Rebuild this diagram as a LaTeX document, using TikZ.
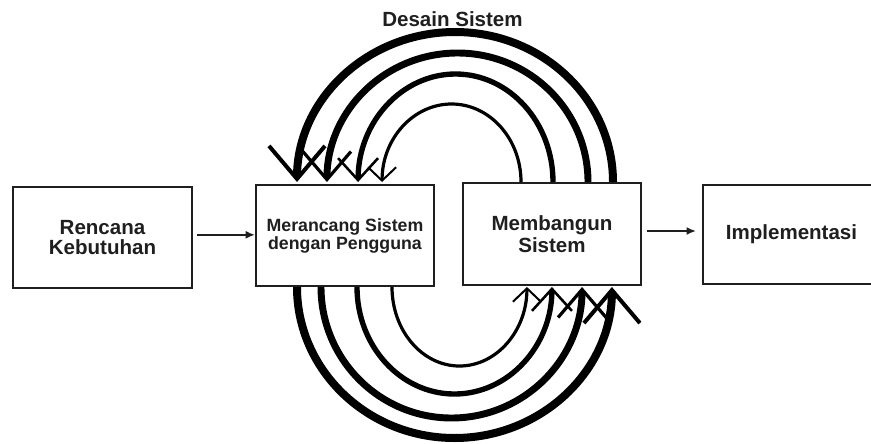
\documentclass[tikz,border=0pt]{standalone}
\usepackage{fontspec}
\setmainfont{Liberation Sans}
\usetikzlibrary{arrows.meta}
\begin{document}
\begin{tikzpicture}[x=0.75pt,y=-0.75pt,
  box/.style={draw=black!88, line width=1.5pt, rectangle, inner sep=0pt, align=center, text=black!88,
    font=\bfseries\fontsize{15.4}{15}\selectfont},
  harr/.style={draw=black!88, line width=1.5pt, -{Latex[length=7pt,width=6pt]}},
  loopA/.style={line width=6pt, -{Straight Barb[length=24.75pt,width=42pt,line width=3pt]}},
  loopB/.style={line width=5.2pt, -{Straight Barb[length=21pt,width=36pt,line width=2.4pt]}},
  loopC/.style={line width=4pt, -{Straight Barb[length=16.5pt,width=30pt,line width=1.9pt]}},
  loopD/.style={line width=2.4pt, -{Straight Barb[length=10pt,width=21pt,line width=1.5pt]}},
]
\useasboundingbox (0,0) rectangle (871,443);
\fill[white] (0,0) rectangle (871,443);

\node[box, minimum width=134.25pt, minimum height=75.75pt] (b1) at (102.5,237.5) {Rencana\\Kebutuhan};
\node[box, minimum width=133.5pt, minimum height=75.75pt, font=\bfseries\fontsize{13.3}{12}\selectfont] (b2) at (345,235.5) {Merancang Sistem\\dengan Pengguna};
\node[box, minimum width=133.5pt, minimum height=76.5pt, font=\bfseries\fontsize{15.4}{16.5}\selectfont] (b3) at (552,234) {Membangun\\Sistem};
\node[box, minimum width=132.75pt, minimum height=74.25pt] (b4) at (791.5,234.5) {Implementasi};

\node[font=\bfseries\fontsize{15.4}{15}\selectfont, text=black!88] (ds) at (452.5,19) {Desain Sistem};

\draw[harr, shorten <=3pt] ([yshift=2pt]b1.east) -- ([yshift=2pt]b1.east -| b2.west);
\draw[harr, shorten <=3.75pt, shorten >=4.5pt] ([yshift=2.25pt]b3.east) -- ([yshift=2.25pt]b3.east -| b4.west);

% upper loops: from Membangun Sistem back to Merancang
\draw[loopA] ([xshift=45.75pt]b3.north) arc[start angle=0, end angle=180, x radius=118.5pt, y radius=112.5pt];
\draw[loopB] ([xshift=27pt]b3.north) arc[start angle=0, end angle=180, x radius=97.9pt, y radius=96.75pt];
\draw[loopC] ([xshift=0.75pt]b3.north) arc[start angle=0, end angle=180, x radius=73.1pt, y radius=81pt];
\draw[loopD] ([xshift=-23.25pt]b3.north) arc[start angle=0, end angle=180, x radius=52.1pt, y radius=58.5pt];

% lower loops: from Merancang to Membangun Sistem
\draw[loopA] ([xshift=-36pt]b2.south) arc[start angle=180, end angle=360, x radius=118.1pt, y radius=113.25pt];
\draw[loopB] ([xshift=-18pt]b2.south) arc[start angle=180, end angle=360, x radius=97.9pt, y radius=98.25pt];
\draw[loopC] ([xshift=9pt]b2.south) arc[start angle=180, end angle=360, x radius=73.1pt, y radius=80.25pt];
\draw[loopD] ([xshift=35.25pt]b2.south) arc[start angle=180, end angle=360, x radius=50.6pt, y radius=59.25pt];
\end{tikzpicture}
\end{document}
